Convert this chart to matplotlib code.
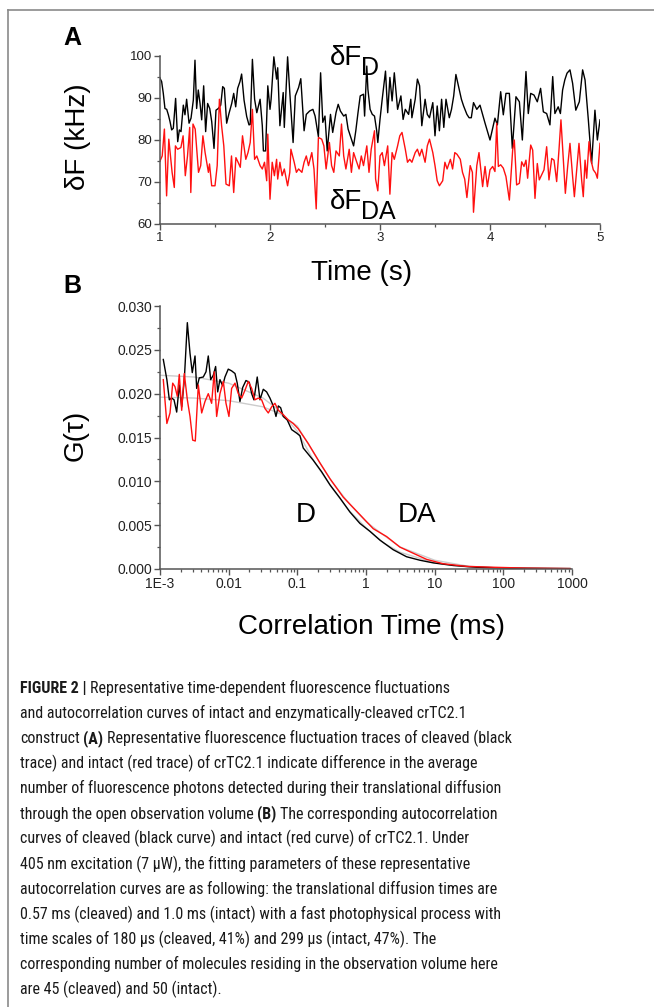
import numpy as np
import matplotlib
matplotlib.use("Agg")
import matplotlib.pyplot as plt
from matplotlib.lines import Line2D
from matplotlib.ticker import MultipleLocator, FixedLocator, FixedFormatter, FormatStrFormatter, LogLocator, NullFormatter
from matplotlib import font_manager as fm

plt.rcParams['font.family'] = ['Liberation Sans', 'DejaVu Sans']

# ---------------- Panel A data: fluorescence fluctuation traces ----------------
t_black = [1.000, 1.015, 1.030, 1.045, 1.061, 1.076, 1.091, 1.106, 1.121, 1.142, 1.161, 1.176, 1.191,
           1.212, 1.227, 1.242, 1.264, 1.282, 1.303, 1.318, 1.333, 1.348, 1.364, 1.379, 1.397, 1.415,
           1.433, 1.452, 1.470, 1.491, 1.509, 1.530, 1.552, 1.570, 1.585, 1.606, 1.627, 1.652, 1.670,
           1.688, 1.706, 1.727, 1.742, 1.764, 1.788, 1.809, 1.82, 1.84, 1.86, 1.88, 1.91, 1.93, 1.94,
           1.96, 1.98, 2.00, 2.01, 2.035, 2.06, 2.07, 2.09, 2.12, 2.13, 2.16, 2.18, 2.21, 2.23, 2.26,
           2.28, 2.31, 2.33, 2.36, 2.39, 2.41, 2.44, 2.46, 2.48, 2.50, 2.52, 2.55, 2.57, 2.60, 2.62,
           2.64, 2.67, 2.69, 2.71, 2.73, 2.76, 2.78, 2.80, 2.82, 2.85, 2.86, 2.88, 2.89, 2.91, 2.93,
           2.95, 2.97, 2.98, 3.00, 3.02, 3.05, 3.07, 3.09, 3.11, 3.13, 3.16, 3.19, 3.21, 3.23, 3.26,
           3.28, 3.29, 3.32, 3.34, 3.36, 3.38, 3.41, 3.43, 3.45, 3.48, 3.50, 3.52, 3.54, 3.56, 3.58,
           3.60, 3.63, 3.65, 3.67, 3.69, 3.72, 3.74, 3.76, 3.79, 3.81, 3.83, 3.85, 3.88, 3.909, 3.955,
           4.000, 4.045, 4.067, 4.097, 4.121, 4.145, 4.176, 4.203, 4.236, 4.267, 4.294, 4.327, 4.348,
           4.370, 4.400, 4.430, 4.460, 4.485, 4.515, 4.545, 4.570, 4.590, 4.620, 4.640, 4.660, 4.680,
           4.700, 4.727, 4.751, 4.780, 4.812, 4.842, 4.864, 4.894, 4.924, 4.954, 4.976, 5.000]
f_black = [94.7, 93.9, 91.1, 87.5, 87.3, 86.0, 84.4, 82.4, 82.8, 89.9, 79.6, 82.4, 82.0,
           88.3, 86.0, 89.7, 84.0, 85.2, 89.5, 99.0, 87.5, 91.9, 88.7, 84.8, 92.9, 82.0,
           88.7, 87.5, 84.4, 78.0, 87.1, 87.5, 88.3, 92.7, 92.3, 84.0, 86.3, 88.7, 91.1,
           87.9, 92.3, 93.9, 95.7, 89.5, 85.6, 83.6, 83.7, 99.2, 89.7, 86.5, 89.7, 83.4, 77.4,
           77.4, 92.9, 87.3, 89.7, 99.8, 94.5, 97.2, 83.4, 91.3, 83.0, 99.8, 91.3, 79.4, 90.5, 92.5,
           94.6, 82.2, 86.1, 86.9, 87.3, 85.7, 80.8, 96.0, 84.2, 85.7, 77.4, 86.1, 81.8, 86.5, 88.5,
           86.9, 85.7, 86.1, 82.6, 81.0, 78.6, 82.2, 86.5, 90.5, 90.9, 85.7, 97.6, 92.1, 87.3, 86.1,
           85.7, 82.2, 79.4, 84.9, 89.7, 96.4, 86.5, 94.9, 89.3, 96.0, 87.3, 90.5, 84.9, 87.3, 86.1,
           89.7, 85.3, 89.7, 94.5, 92.9, 83.4, 89.7, 86.1, 85.3, 88.9, 81.0, 88.1, 82.2, 89.7, 83.0,
           89.7, 85.3, 87.3, 90.5, 95.6, 92.1, 89.7, 88.1, 86.1, 85.3, 85.3, 88.9, 87.3, 88.3, 84.0,
           80.0, 85.2, 83.6, 91.5, 86.0, 91.1, 91.1, 78.0, 90.3, 89.1, 80.0, 96.3, 86.3,
           91.1, 90.7, 89.1, 92.3, 86.7, 86.3, 83.6, 95.1, 86.3, 87.9, 86.3, 91.9, 94.3,
           95.9, 96.7, 93.5, 87.1, 89.1, 96.7, 94.3, 84.8, 74.4, 87.1, 80.0, 84.8]

t_red = [1.00, 1.02, 1.04, 1.06, 1.08, 1.11, 1.13, 1.14, 1.16, 1.19, 1.21, 1.23, 1.25, 1.27, 1.28,
         1.30, 1.32, 1.35, 1.37, 1.39, 1.41, 1.44, 1.45, 1.47, 1.50, 1.52, 1.54, 1.56, 1.58, 1.60,
         1.63, 1.65, 1.67, 1.69, 1.71, 1.73, 1.75, 1.78, 1.80, 1.82, 1.84, 1.86, 1.88, 1.91, 1.93,
         1.95, 1.97, 1.98, 2.00, 2.02, 2.04, 2.06, 2.07, 2.09, 2.11, 2.13, 2.16, 2.18, 2.19, 2.22,
         2.24, 2.26, 2.29, 2.31, 2.33, 2.35, 2.38, 2.40, 2.42, 2.44, 2.47, 2.49, 2.51, 2.54, 2.56,
         2.58, 2.60, 2.63, 2.65, 2.67, 2.69, 2.72, 2.74, 2.76, 2.78, 2.81, 2.83, 2.85, 2.88, 2.90,
         2.92, 2.95, 2.96, 2.98, 3.00, 3.02, 3.04, 3.07, 3.09, 3.11, 3.13, 3.16, 3.18, 3.20, 3.23,
         3.25, 3.27, 3.29, 3.32, 3.34, 3.36, 3.38, 3.41, 3.43, 3.45, 3.48, 3.50, 3.52, 3.54, 3.57,
         3.59, 3.61, 3.64, 3.66, 3.68, 3.70, 3.73, 3.75, 3.77, 3.79, 3.82, 3.84, 3.85, 3.88, 3.90,
         3.933, 3.955, 3.976, 4.000, 4.024, 4.045, 4.061, 4.076, 4.097, 4.121, 4.145, 4.176, 4.206,
         4.221, 4.242, 4.267, 4.288, 4.309, 4.327, 4.342, 4.370, 4.388, 4.409, 4.430, 4.448, 4.470,
         4.491, 4.515, 4.536, 4.561, 4.582, 4.606, 4.627, 4.645, 4.667, 4.685, 4.706, 4.727, 4.751,
         4.767, 4.788, 4.809, 4.833, 4.848, 4.864, 4.879, 4.900, 4.918, 4.939, 4.961, 4.976, 5.000]
f_red = [75.0, 76.2, 82.6, 66.7, 80.2, 72.3, 68.7, 78.6, 77.8, 78.2, 81.0, 71.5, 76.2, 83.0, 67.5,
         83.8, 82.6, 72.3, 73.9, 81.0, 77.0, 72.3, 74.3, 69.1, 69.1, 73.9, 89.7, 83.4, 78.6, 69.5,
         69.1, 76.2, 67.5, 75.8, 74.7, 73.5, 81.0, 75.4, 77.0, 79.4, 87.3, 75.4, 76.2, 73.9, 73.1,
         74.7, 70.3, 81.4, 65.9, 74.7, 71.5, 75.4, 70.7, 74.7, 71.5, 73.1, 69.1, 72.3, 77.8, 74.7,
         72.3, 73.1, 72.3, 74.7, 76.2, 73.9, 77.0, 73.1, 63.6, 80.6, 80.2, 78.6, 73.1, 79.4, 73.9,
         72.3, 77.4, 76.2, 83.8, 76.2, 73.1, 77.8, 72.3, 77.0, 75.4, 73.1, 76.2, 73.9, 78.6, 72.3,
         77.8, 82.2, 70.7, 67.9, 76.2, 77.0, 73.9, 78.6, 67.1, 77.0, 75.4, 78.6, 81.0, 81.8, 77.8,
         74.7, 75.4, 74.7, 77.0, 77.8, 76.2, 77.8, 74.7, 78.6, 80.2, 77.0, 73.9, 70.3, 69.1, 70.3,
         74.7, 73.1, 75.4, 73.1, 77.0, 76.6, 75.4, 72.3, 70.7, 66.3, 73.9, 72.3, 62.8, 73.9, 77.0,
         68.9, 73.7, 68.9, 72.9, 73.7, 72.5, 84.0, 73.7, 74.1, 73.3, 71.3, 65.7, 77.6,
         80.0, 69.3, 69.7, 74.8, 73.7, 75.2, 70.9, 78.8, 77.6, 66.1, 74.4, 70.5, 71.7,
         72.9, 78.4, 70.5, 75.6, 75.2, 70.1, 77.6, 84.8, 75.2, 67.3, 73.7, 79.2, 71.3,
         66.5, 72.9, 79.2, 70.5, 66.5, 75.2, 70.9, 79.6, 75.2, 72.9, 72.1, 70.9, 79.2]

# ---------------- Panel B data: autocorrelation curves (log10 tau in ms, G) ----------------
logtau_black = [-2.952, -2.90, -2.864, -2.83, -2.796, -2.757, -2.719, -2.684, -2.646, -2.602, -2.563,
                -2.530, -2.49, -2.466, -2.428, -2.37, -2.33, -2.297, -2.262, -2.224, -2.19, -2.16,
                -2.127, -2.087, -2.054, -2.006, -1.957, -1.908, -1.875, -1.836, -1.796, -1.748, -1.70,
                -1.665, -1.632, -1.584, -1.544, -1.496, -1.447, -1.399, -1.35, -1.311, -1.277, -1.243,
                -1.205, -1.147, -1.083, -1.01, -0.962, -0.914, -0.768, -0.647, -0.525, -0.38, -0.234,
                -0.089, 0.057, 0.202, 0.396, 0.59, 0.785, 0.978, 1.27, 1.61, 2.09, 2.97]
g_black = [0.0239, 0.0216, 0.0193, 0.0195, 0.0193, 0.0179, 0.0210, 0.0185, 0.0216, 0.0281, 0.0246,
           0.0224, 0.0243, 0.0206, 0.0218, 0.0219, 0.0225, 0.0243, 0.0216, 0.0221, 0.0231, 0.0202,
           0.0216, 0.0209, 0.0219, 0.0228, 0.0226, 0.0223, 0.0212, 0.0191, 0.0207, 0.0215, 0.0213,
           0.0200, 0.0193, 0.0219, 0.0193, 0.0205, 0.0202, 0.0195, 0.0186, 0.0174, 0.0186, 0.0184,
           0.0174, 0.0170, 0.0159, 0.0155, 0.0152, 0.0138, 0.0124, 0.0111, 0.0096, 0.0081, 0.0065,
           0.0052, 0.0043, 0.0033, 0.0022, 0.0014, 0.0010, 0.0007, 0.0004, 0.0002, 0.0001, 0.00005]

logtau_red = [-2.952, -2.90, -2.854, -2.815, -2.782, -2.748, -2.719, -2.684, -2.646, -2.602, -2.563,
              -2.524, -2.486, -2.442, -2.393, -2.345, -2.297, -2.248, -2.21, -2.175, -2.127, -2.078,
              -2.039, -1.996, -1.957, -1.908, -1.86, -1.811, -1.762, -1.714, -1.665, -1.617, -1.568,
              -1.52, -1.471, -1.423, -1.374, -1.326, -1.277, -1.205, -1.132, -1.06, -0.987, -0.84,
              -0.671, -0.525, -0.332, -0.089, 0.105, 0.3, 0.493, 0.687, 0.882, 1.124, 1.46, 1.85,
              2.34, 2.97]
g_red = [0.0216, 0.0166, 0.0178, 0.0212, 0.0208, 0.0197, 0.0222, 0.0181, 0.0223, 0.0193, 0.0174,
         0.0147, 0.0146, 0.0210, 0.0178, 0.0191, 0.0200, 0.0189, 0.0225, 0.0174, 0.0200, 0.0214,
         0.0189, 0.0174, 0.0206, 0.0212, 0.0200, 0.0195, 0.0204, 0.0214, 0.0206, 0.0193, 0.0195,
         0.0193, 0.0183, 0.0178, 0.0185, 0.0189, 0.0181, 0.0176, 0.0170, 0.0166, 0.0160, 0.0143,
         0.0121, 0.0103, 0.0082, 0.0062, 0.0046, 0.0037, 0.0025, 0.0018, 0.0011, 0.0006, 0.0003,
         0.0002, 0.0001, 0.00005]

# fitted curves (light gray)
logtau_fit = [-3.0, -2.5, -2.0, -1.5, -1.25, -1.0, -0.75, -0.5, -0.25, 0.0, 0.25, 0.5, 1.0, 1.5, 2.0, 3.0]
g_fit_black = [0.0221, 0.0219, 0.0212, 0.0195, 0.0180, 0.0157, 0.0122, 0.0093, 0.0067, 0.0047,
               0.0030, 0.0019, 0.0007, 0.0002, 0.00005, 0.0]
g_fit_red = [0.0196, 0.0195, 0.0192, 0.0185, 0.0177, 0.0163, 0.0131, 0.0100, 0.0075, 0.0054,
             0.0039, 0.0025, 0.0010, 0.0003, 0.0001, 0.0]

xtick_vals_B = [1e-3, 1e-2, 1e-1, 1, 10, 100, 1000]
xtick_labels_B = ["1E-3", "0.01", "0.1", "1", "10", "100", "1000"]

caption_lines = [
    [("FIGURE 2 |", True), ("Representative time-dependent fluorescence fluctuations", False)],
    [("and autocorrelation curves of intact and enzymatically-cleaved crTC2.1", False)],
    [("construct", False), ("(A)", True), ("Representative fluorescence fluctuation traces of cleaved (black", False)],
    [("trace) and intact (red trace) of crTC2.1 indicate difference in the average", False)],
    [("number of fluorescence photons detected during their translational diffusion", False)],
    [("through the open observation volume", False), ("(B)", True), ("The corresponding autocorrelation", False)],
    [("curves of cleaved (black curve) and intact (red curve) of crTC2.1. Under", False)],
    [("405 nm excitation (7 \u00b5W), the fitting parameters of these representative", False)],
    [("autocorrelation curves are as following: the translational diffusion times are", False)],
    [("0.57 ms (cleaved) and 1.0 ms (intact) with a fast photophysical process with", False)],
    [("time scales of 180 \u00b5s (cleaved, 41%) and 299 \u00b5s (intact, 47%). The", False)],
    [("corresponding number of molecules residing in the observation volume here", False)],
    [("are 45 (cleaved) and 50 (intact).", False)],
]

# ---------------- Figure ----------------
W, H, DPI = 654, 1007, 100
fig = plt.figure(figsize=(W / DPI, H / DPI), dpi=DPI)
fig.patch.set_facecolor('white')

def fx(px):
    return px / W

def fy(py):
    return 1 - py / H

AXC = '#555555'

def style_axes(ax, size):
    for s in ['top', 'right']:
        ax.spines[s].set_visible(False)
    for s in ['left', 'bottom']:
        ax.spines[s].set_color(AXC)
        ax.spines[s].set_linewidth(1.1)
    ax.tick_params(which='major', direction='out', length=4, width=1.0, color=AXC,
                   labelsize=size, pad=1.5, labelcolor='#222222')
    ax.tick_params(which='minor', direction='out', length=2.2, width=0.9, color=AXC)

# Panel A
axA = fig.add_axes([fx(160), fy(224), fx(600) - fx(160), (224 - 56) / H])
axA.plot(t_black, f_black, color='black', lw=1.0)
axA.plot(t_red, f_red, color='#ff1010', lw=1.0)
axA.set_xlim(1, 5)
axA.set_ylim(60, 100)
axA.xaxis.set_major_locator(MultipleLocator(1))
axA.xaxis.set_minor_locator(MultipleLocator(0.5))
axA.yaxis.set_major_locator(MultipleLocator(10))
axA.yaxis.set_minor_locator(MultipleLocator(5))
style_axes(axA, 9.5)

# Panel B
axB = fig.add_axes([fx(160), fy(569), fx(572) - fx(160), (569 - 306) / H])
tau_fit = [10 ** v for v in logtau_fit]
axB.plot(tau_fit, g_fit_black, color='#cccccc', lw=1.0)
axB.plot(tau_fit, g_fit_red, color='#cccccc', lw=1.0)
axB.plot([10 ** v for v in logtau_black], g_black, color='black', lw=1.0)
axB.plot([10 ** v for v in logtau_red], g_red, color='#ff1010', lw=1.0)
axB.set_xscale('log')
axB.set_xlim(1e-3, 1000)
axB.set_ylim(0, 0.030)
axB.xaxis.set_major_locator(FixedLocator(xtick_vals_B))
axB.xaxis.set_major_formatter(FixedFormatter(xtick_labels_B))
axB.xaxis.set_minor_locator(LogLocator(base=10, subs=np.arange(2, 10), numticks=20))
axB.xaxis.set_minor_formatter(NullFormatter())
axB.yaxis.set_major_locator(MultipleLocator(0.005))
axB.yaxis.set_minor_locator(MultipleLocator(0.0025))
axB.yaxis.set_major_formatter(FormatStrFormatter('%.3f'))
style_axes(axB, 10)

# Labels and annotations
fig.text(fx(63), fy(45), "A", fontsize=18, fontweight='bold', ha='left', va='baseline')
fig.text(fx(63), fy(293), "B", fontsize=18, fontweight='bold', ha='left', va='baseline')
fig.text(fx(78), fy(137), "\u03b4F (kHz)", fontsize=20, rotation=90, ha='center', va='center')
fig.text(fx(362), fy(273), "Time (s)", fontsize=20, ha='center', va='center')
fig.text(fx(330), fy(65), "\u03b4F", fontsize=20, ha='left', va='baseline')
fig.text(fx(361), fy(75), "D", fontsize=18, ha='left', va='baseline')
fig.text(fx(330), fy(209), "\u03b4F", fontsize=20, ha='left', va='baseline')
fig.text(fx(361), fy(219), "DA", fontsize=18, ha='left', va='baseline')
fig.text(fx(76), fy(435), "G(\u03c4)", fontsize=20, rotation=90, ha='center', va='center')
fig.text(fx(372), fy(627), "Correlation Time (ms)", fontsize=20, ha='center', va='center')
fig.text(fx(296), fy(522), "D", fontsize=20, ha='left', va='baseline')
fig.text(fx(398), fy(522), "DA", fontsize=20, ha='left', va='baseline')

# Frame lines
fig.add_artist(Line2D([fx(8), 1.0], [fy(10), fy(10)], transform=fig.transFigure, color='#8a8a8a', lw=1.2))
fig.add_artist(Line2D([fx(8), fx(8)], [0.0, fy(10)], transform=fig.transFigure, color='#8a8a8a', lw=1.2))

# Caption: choose the narrowest installed sans family so the text can be as large as in the reference
renderer = fig.canvas.get_renderer()
names = {f.name for f in fm.fontManager.ttflist}

def text_width(s, size, fam, bold=False):
    t = fig.text(0, 0, s, fontsize=size, family=fam, fontweight='bold' if bold else 'normal')
    w = t.get_window_extent(renderer=renderer).width
    t.remove()
    return w

ref = caption_lines[4][0][0]
candidates = ['Liberation Sans Narrow', 'Roboto Condensed', 'Open Sans Condensed', 'Roboto',
              'Liberation Sans', 'Lato', 'Noto Sans']
best = None
for fam in candidates:
    if fam not in names:
        continue
    size = 12 * 481.0 / text_width(ref, 12, [fam])
    if best is None or size > best[1]:
        best = (fam, size)
cap_family = [best[0], 'DejaVu Sans']
cap_size = best[1]
space_w = text_width("a a", cap_size, cap_family) - text_width("aa", cap_size, cap_family)

base0, step = 693.0, 25.1
for i, segs in enumerate(caption_lines):
    xpx = 20.0
    for j, (s, bold) in enumerate(segs):
        if j > 0:
            xpx += space_w
        fig.text(fx(xpx), fy(base0 + i * step), s, fontsize=cap_size, family=cap_family,
                 fontweight='bold' if bold else 'normal', ha='left', va='baseline', color='#1a1a1a')
        xpx += text_width(s, cap_size, cap_family, bold)

fig.savefig("out.png", dpi=DPI, facecolor='white')
